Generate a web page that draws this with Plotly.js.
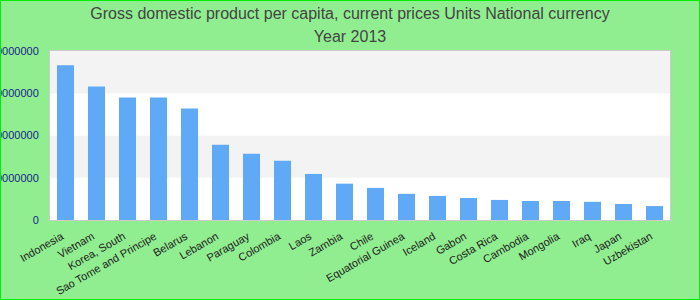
<!DOCTYPE html>
<html>
<head>
<meta charset="utf-8">
<script src="https://cdn.plot.ly/plotly-3.0.1.min.js"></script>
<style>
  html, body { margin: 0; padding: 0; background: #90ee90; }
  #wrap { position: relative; width: 700px; height: 300px; }
  #chart { width: 700px; height: 300px; }
  #frame { position: absolute; left: 0; top: 0; width: 700px; height: 300px; box-sizing: border-box; border: 1px solid #00ee00; pointer-events: none; }
</style>
</head>
<body>
<div id="wrap"><div id="chart"></div><div id="frame"></div></div>
<script>
const countries = ["Indonesia", "Vietnam", "Korea, South", "Sao Tome and Principe", "Belarus", "Lebanon", "Paraguay", "Colombia", "Laos", "Zambia", "Chile", "Equatorial Guinea", "Iceland", "Gabon", "Costa Rica", "Cambodia", "Mongolia", "Iraq", "Japan", "Uzbekistan"];
const gdpPerCapita = [36600000, 31600000, 29000000, 29000000, 26400000, 17800000, 15700000, 14000000, 10900000, 8600000, 7600000, 6200000, 5700000, 5200000, 4750000, 4500000, 4500000, 4300000, 3800000, 3300000];
const yTickVals = [0, 10000000, 20000000, 30000000, 40000000];
const yTickText = ["0", "10000000", "20000000", "30000000", "40000000"];
const titleText = "Gross domestic product per capita, current prices Units National currency<br>Year 2013";

const bands = [];
for (let i = 0; i < yTickVals.length - 1; i++) {
  bands.push({
    type: "rect", xref: "paper", yref: "y", layer: "below",
    x0: 0, x1: 1, y0: yTickVals[i], y1: yTickVals[i + 1],
    fillcolor: i % 2 === 0 ? "#ffffff" : "#f3f3f3", line: { width: 0 }
  });
}

const trace = {
  type: "bar", x: countries, y: gdpPerCapita,
  marker: { color: "#60a9f6" }, hoverinfo: "x+y"
};

const layout = {
  width: 700, height: 300,
  margin: { l: 50, r: 30, t: 51, b: 80, autoexpand: false },
  paper_bgcolor: "#90ee90", plot_bgcolor: "#ffffff",
  bargap: 0.45,
  showlegend: false,
  title: {
    text: titleText,
    font: { family: "'Liberation Sans', Arial, sans-serif", size: 16, color: "#444444" },
    x: 0.5, xanchor: "center", y: 0.938, yanchor: "top", yref: "container"
  },
  xaxis: {
    type: "category", tickangle: -30, automargin: false,
    tickfont: { family: "'Liberation Sans', Arial, sans-serif", size: 11, color: "#222222" },
    showline: true, linecolor: "#cccccc", linewidth: 1, mirror: true,
    showgrid: false, ticks: "", ticklabelstandoff: 5, ticklabelshift: -4
  },
  yaxis: {
    range: [0, 40000000], tickvals: yTickVals, ticktext: yTickText, automargin: false,
    tickfont: { family: "'Liberation Sans', Arial, sans-serif", size: 11, color: "#1c1c8c" },
    showline: true, linecolor: "#cccccc", linewidth: 1, mirror: true,
    showgrid: false, zeroline: false, ticks: "outside", ticklen: 8, tickcolor: "rgba(0,0,0,0)"
  },
  shapes: bands
};

Plotly.newPlot("chart", [trace], layout, { displayModeBar: false, staticPlot: true }).then(function () {
  const lines = document.querySelectorAll("#chart .gtitle tspan.line");
  if (lines.length > 1) lines[1].setAttribute("dy", "23px");
});
</script>
</body>
</html>
